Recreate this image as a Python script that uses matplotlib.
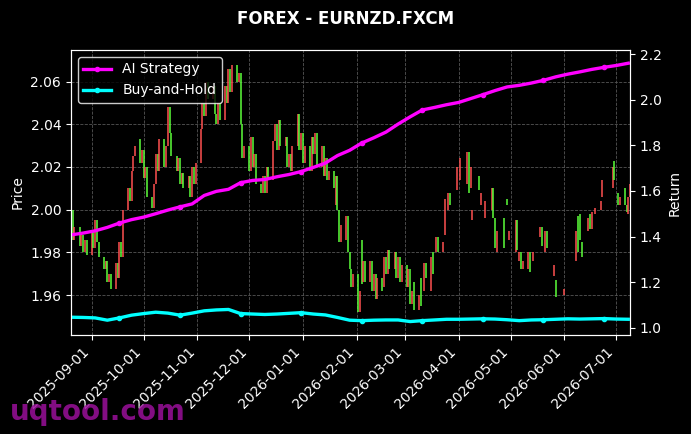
import numpy as np
import pandas as pd
import matplotlib
matplotlib.use("Agg")
from matplotlib import pyplot as plt
import matplotlib.dates as mdates

n = np.nan

# daily candles (business days 2025-08-20 .. 2026-07-09), one row per week, nan = no data
opens = [
    1.994, 2.000, 1.986,
    1.992, 1.983, 1.988, 1.980, 1.986,
    1.979, 1.990, 1.982, 1.995, 1.985,
    1.978, 1.972, 1.976, 1.966, 1.970,
    1.963, 1.975, 1.968, 1.985, 1.978,
    2.000, 2.010, 2.004, 2.018, 2.025,
    2.033, 2.022, 2.028, 2.015, 2.020,
    2.006, 2.001, 2.012, 2.026, 2.018,
    2.033, 2.020, 2.030, 2.048, 2.036,
    2.025, 2.018, 2.024, 2.012, 2.017,
    2.010, 2.016, 2.006, 2.020, 2.012,
    2.022, 2.038, 2.050, 2.044, 2.060,
    2.052, 2.058, 2.045, 2.040, 2.050,
    2.042, 2.058, 2.050, 2.066, 2.055,
    2.068, 2.060, 2.064, 2.040, 2.024,
    2.030, 2.018, 2.034, 2.020, 2.026,
    2.012, 2.008, 2.016, 2.008, 2.020,
    2.014, 2.032, 2.040, 2.028, 2.042,
    2.030, 2.034, 2.020, 2.026, 2.018,
    2.030, 2.045, 2.028, 2.036, 2.022,
    2.030, 2.018, 2.034, 2.026, 2.036,
    2.020, 2.030, 2.016, 2.024, 2.014,
    2.018, 2.002, 2.016, 2.000, 1.985,
    1.986, 1.997, 1.980, 1.972, 1.964,
    1.970, 1.952, 1.986, 1.966, 1.976,
    1.966, 1.976, 1.962, 1.970, 1.958,
    1.968, 1.964, 1.978, 1.970, 1.981,
    1.972, 1.980, 1.968, 1.978, 1.966,
    1.974, 1.964, 1.972, 1.956, 1.966,
    1.953, 1.968, n, 1.962, 1.975,
    1.962, 1.980, n, 1.980, 1.987,
    1.980, 1.988, n, 2.000, 2.008,
    n, 2.009, n, 2.014, n,
    2.012, 2.027, 2.010, 1.995, n,
    2.016, 2.002, n, 1.996, n,
    2.000, 2.010, 1.996, 1.980, n,
    1.996, n, 2.005, 1.986, n,
    1.980, 1.995, 1.976, 1.980, 1.972,
    1.972, 1.980, n, 1.976, n,
    1.987, 1.992, n, 1.980, 1.990,
    n, 1.969, 1.967, n, n,
    1.960, n, n, n, n,
    1.976, 1.997, 1.998, 1.985, n,
    1.990, 1.998, 1.991, n, 1.998,
    2.000, 2.006, n, n, n,
    2.010, 2.023, n, 2.008, 2.002,
    2.010, 2.002, 1.998, 2.006,
]
closes = [
    2.000, 1.986, 1.992,
    1.983, 1.988, 1.980, 1.986, 1.979,
    1.990, 1.982, 1.995, 1.985, 1.978,
    1.972, 1.976, 1.966, 1.970, 1.963,
    1.975, 1.968, 1.985, 1.978, 2.000,
    2.010, 2.004, 2.018, 2.025, 2.030,
    2.022, 2.028, 2.015, 2.020, 2.006,
    2.001, 2.012, 2.026, 2.018, 2.033,
    2.020, 2.030, 2.048, 2.036, 2.025,
    2.018, 2.024, 2.012, 2.017, 2.010,
    2.016, 2.006, 2.020, 2.012, 2.022,
    2.038, 2.050, 2.044, 2.060, 2.052,
    2.058, 2.045, 2.040, 2.050, 2.042,
    2.058, 2.050, 2.066, 2.055, 2.068,
    2.060, 2.064, 2.040, 2.024, 2.030,
    2.018, 2.034, 2.020, 2.026, 2.012,
    2.008, 2.016, 2.008, 2.020, 2.014,
    2.032, 2.040, 2.028, 2.042, 2.030,
    2.034, 2.020, 2.026, 2.018, 2.030,
    2.045, 2.028, 2.036, 2.022, 2.030,
    2.018, 2.034, 2.026, 2.036, 2.020,
    2.030, 2.016, 2.024, 2.014, 2.018,
    2.010, 2.016, 2.000, 1.985, 1.993,
    1.997, 1.980, 1.972, 1.964, 1.970,
    1.952, 1.962, 1.965, 1.976, 1.966,
    1.976, 1.962, 1.970, 1.958, 1.968,
    1.962, 1.978, 1.970, 1.981, 1.972,
    1.980, 1.968, 1.978, 1.966, 1.974,
    1.964, 1.972, 1.956, 1.962, 1.953,
    1.960, 1.955, n, 1.975, 1.968,
    1.978, 1.970, n, 1.987, 1.980,
    1.985, 2.005, n, 2.008, 2.002,
    n, 2.020, n, 2.024, n,
    2.027, 2.008, 2.020, 2.000, n,
    2.009, 2.008, n, 2.004, n,
    2.010, 1.996, 1.982, 1.990, n,
    1.982, n, 2.002, 1.990, n,
    1.995, 1.981, 1.980, 1.972, 1.976,
    1.980, 1.971, n, 1.980, n,
    1.992, 1.983, n, 1.990, 1.982,
    n, 1.974, 1.959, n, n,
    1.963, n, n, n, n,
    1.990, 1.980, 1.986, 1.978, n,
    1.996, 1.991, 1.999, n, 2.001,
    2.004, 2.014, n, n, n,
    2.020, 2.014, n, 2.002, 2.006,
    2.002, 1.999, 2.006, 2.012,
]

# weekly cumulative returns
ai_strategy = [1.407, 1.415, 1.425, 1.440, 1.459, 1.474, 1.485, 1.500, 1.516, 1.530,
               1.543, 1.580, 1.598, 1.607, 1.636, 1.646, 1.650, 1.662, 1.672, 1.685,
               1.703, 1.722, 1.755, 1.778, 1.810, 1.833, 1.858, 1.893, 1.925, 1.955,
               1.966, 1.978, 1.988, 2.005, 2.022, 2.040, 2.056, 2.063, 2.073, 2.085,
               2.100, 2.112, 2.122, 2.133, 2.142, 2.150, 2.160]
buy_hold = [1.046, 1.045, 1.043, 1.033, 1.043, 1.055, 1.062, 1.068, 1.064, 1.055,
            1.064, 1.074, 1.078, 1.080, 1.062, 1.060, 1.058, 1.060, 1.063, 1.066,
            1.060, 1.056, 1.045, 1.033, 1.031, 1.033, 1.034, 1.034, 1.027, 1.031,
            1.034, 1.037, 1.037, 1.038, 1.039, 1.038, 1.035, 1.031, 1.034, 1.035,
            1.037, 1.039, 1.038, 1.039, 1.040, 1.038, 1.037]

dates = pd.bdate_range("2025-08-20", "2026-07-09")
ret_dates = pd.date_range("2025-08-20", periods=len(ai_strategy), freq="7D")

o = np.array(opens)
c = np.array(closes)
up = c >= o
green = "#5cff3a"
red = "#ff5050"
colors = np.where(up, red, green)

plt.style.use("dark_background")
fig = plt.figure(figsize=(6.91, 4.34), dpi=100)
ax = fig.add_axes([0.1027, 0.2281, 0.809, 0.6567])
ax.set_facecolor("black")

ok = ~np.isnan(o)
ax.vlines(dates[ok], np.minimum(o, c)[ok], np.maximum(o, c)[ok], colors=colors[ok], linewidth=1.1)

ax.set_ylim(1.9413, 2.0748)
ax.set_xlim(dates[0], dates[-1])
ax.set_ylabel("Price", color="white")
ax.grid(True, color="#555555", linestyle="--", linewidth=0.6)
ax.xaxis.set_major_locator(mdates.MonthLocator())
ax.xaxis.set_major_formatter(mdates.DateFormatter("%Y-%m-%d"))
plt.setp(ax.get_xticklabels(), rotation=45, ha="right")

ax2 = ax.twinx()
ax2.plot(ret_dates, ai_strategy, color="#ff00ff", linewidth=2.4, marker="o", markersize=3,
         markevery=(4, 5), label="AI Strategy")
ax2.plot(ret_dates, buy_hold, color="#00ffff", linewidth=2.4, marker="o", markersize=3,
         markevery=(4, 5), label="Buy-and-Hold")
ax2.set_ylim(0.968, 2.218)
ax2.set_ylabel("Return", color="white")
ax2.set_xlim(dates[0], dates[-1])
ax2.legend(loc="upper left", facecolor="black", edgecolor="white", fontsize=10)

for a in (ax, ax2):
    for s in a.spines.values():
        s.set_color("white")
    a.tick_params(colors="white")

fig.suptitle("FOREX - EURNZD.FXCM", color="white", fontsize=12, fontweight="bold", y=0.978)
fig.text(0.014, 0.033, "uqtool.com", color="#9a109a", fontsize=20, fontweight="bold", alpha=0.85)

fig.savefig("out.png", dpi=100, facecolor="black")
